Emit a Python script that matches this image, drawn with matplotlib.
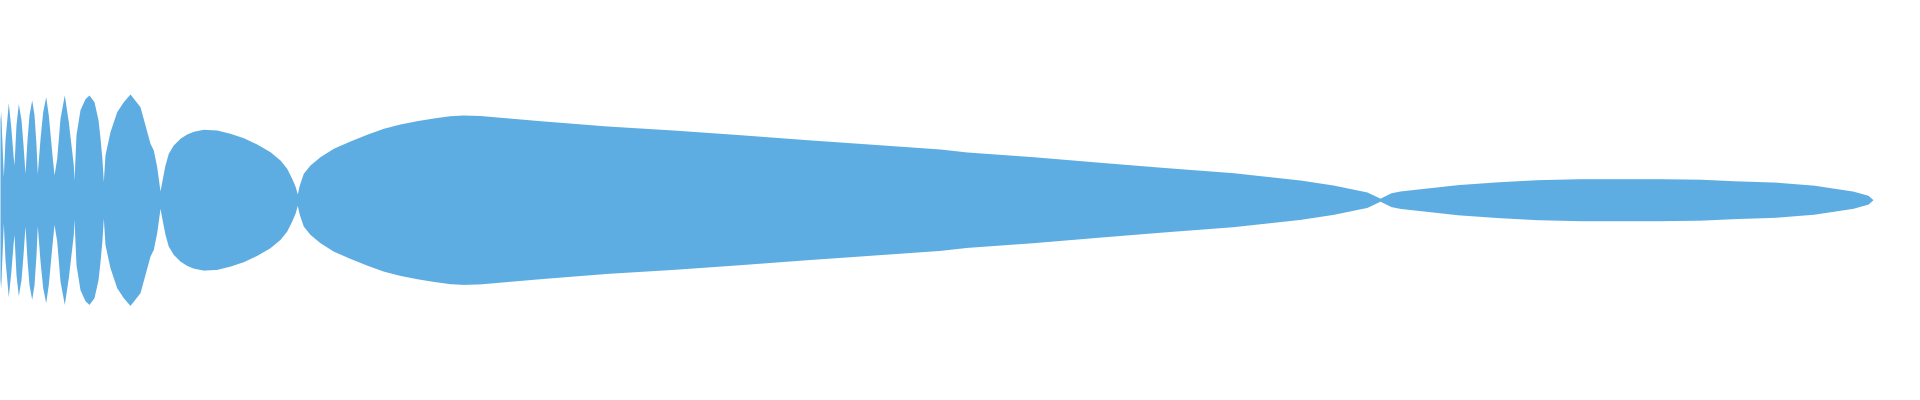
import numpy as np
import matplotlib
matplotlib.use("Agg")
import matplotlib.pyplot as plt

# silhouette profile (time, amplitude)
t = [0.0, 0.07, 0.33, 0.5, 0.83, 1.1, 1.3, 1.4,
     1.6, 1.83, 2.1, 2.3, 2.5,
     2.7, 2.9, 3.17, 3.4, 3.6, 3.73,
     4.0, 4.27, 4.57, 4.83, 5.17, 5.4,
     5.67, 6.0, 6.43, 6.83, 7.33, 7.4,
     7.6, 8.0, 8.5, 8.9, 9.4, 9.8, 10.0, 10.2, 10.33,
     10.5, 11.0, 11.67, 12.33, 13.0, 14.0, 15.0, 15.33, 15.67, 16.0,
     16.27, 16.5, 16.83, 17.33, 18.0, 18.67, 19.33, 20.33, 21.67, 23.0, 24.33,
     25.67, 27.0, 28.0, 28.67, 29.17, 29.5, 29.73,
     29.93, 30.33, 31.0, 32.0, 33.33, 35.0, 36.67, 38.33, 40.0, 41.67, 43.33,
     45.0, 46.33, 48.0, 54.0, 60.7,
     67.3, 74.0, 80.7, 87.3, 94.0, 96.7, 103.3, 110.0, 116.7, 123.3, 130.0,
     133.3, 136.7, 138.0,
     139.1, 140.0, 141.8, 145.8, 149.8, 153.7, 158.0, 166.0, 170.0, 173.5,
     177.5, 181.4, 185.3, 186.8, 187.3]
amp = [80, 88, 23, 60, 97, 70, 45, 34.7,
       75, 96, 80, 55, 26.4,
       60, 85, 99.7, 85, 55, 26,
       61, 88, 103, 84.7, 48, 24.7,
       41.4, 81.4, 104.7, 78, 34.7, 19.5,
       65, 90, 101, 104.7, 98, 80, 62, 40, 18.3,
       45, 68, 88, 98, 105.7, 93, 56.4, 49.7, 33, 8.7,
       23, 34.7, 46.4, 54.7, 61.4, 65.7, 68.4, 70.4, 69.7, 66.4, 62,
       55.7, 48, 39.7, 31.4, 21.4, 13.7, 5.7,
       14.7, 26.4, 34.7, 43, 51.4, 58.7, 65.4, 71.4, 75.7, 79, 81.7,
       84, 84.7, 84.2, 79, 73.7,
       69.7, 65, 60, 55.4, 50.7, 47.7, 43, 37.4, 32, 27, 19.7,
       14.7, 7.7, 1.5,
       6.9, 8.7, 10.7, 15.1, 17.9, 20, 21, 21, 20.5, 18.9,
       17.6, 14.5, 8.6, 4.4, 0]

t = np.array(t)
amp = np.array(amp)

fig = plt.figure(figsize=(19.2, 4), dpi=100)
ax = fig.add_axes([0, 0, 1, 1])
ax.fill_between(t, -amp, amp, color="#5DADE2", linewidth=0)
ax.set_xlim(0, 192)
ax.set_ylim(-200.3, 199.7)
ax.axis("off")
fig.savefig("out.png", dpi=100)
plt.close("all")
